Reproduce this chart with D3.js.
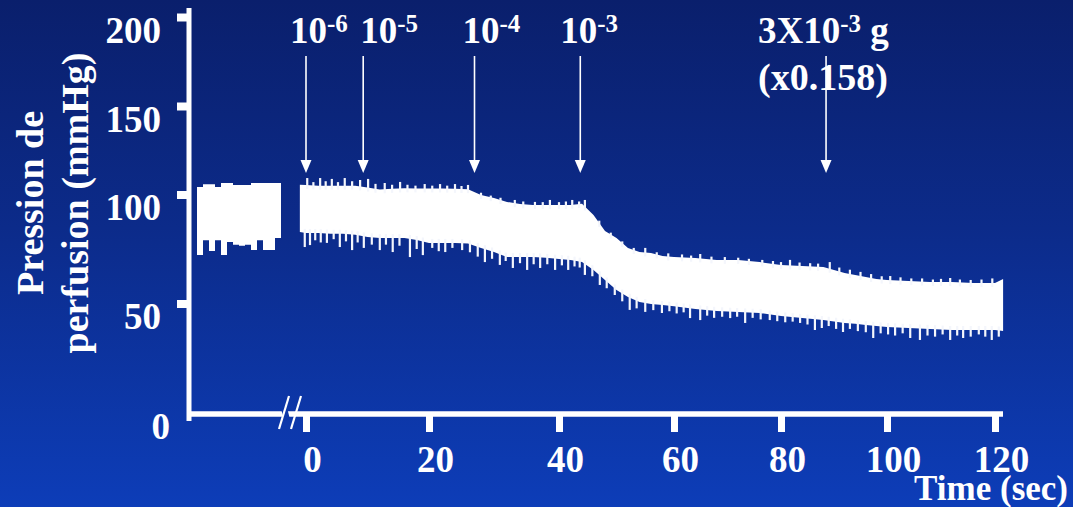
<!DOCTYPE html>
<html>
<head>
<meta charset="utf-8">
<script src="https://cdnjs.cloudflare.com/ajax/libs/d3/7.8.5/d3.min.js"></script>
<style>
  body { margin: 0; overflow: hidden; background: #0b2a8f; }
  text { font-family: "Liberation Serif", "Times New Roman", serif; font-weight: bold; fill: #fff; }
</style>
</head>
<body>
<div id="chart"></div>
<script>
var width = 1073, height = 507;

// axis ticks
var xTicks = [0, 20, 40, 60, 80, 100, 120];
var yTicks = [0, 50, 100, 150, 200];

// main recording after the break: time (sec) and pressure envelope (mmHg)
var times = [-1, 0, 2, 4, 6, 8, 10, 12, 14, 16, 18, 20, 22, 24, 26, 28, 30, 32, 34, 36, 38, 40,
  42, 44, 46, 48, 50, 52, 54, 56, 58, 60, 64, 68, 72, 76, 80, 84, 88, 90, 92, 94, 96, 98, 100,
  104, 108, 112, 116, 120, 121.5];
var upper = [105.5, 105.4, 105, 105, 105, 105, 104, 102.8, 103.2, 103.5, 103.4, 103.4, 103.4,
  103.2, 103, 99.8, 98.4, 96.6, 95.6, 95.2, 95.2, 95.2, 95.2, 95.8, 90.6, 83.3, 80, 75.5, 73.6,
  73.2, 71.8, 71.3, 70.9, 70, 70, 69, 67.7, 67.2, 66.7, 65.4, 64, 63.1, 62.2, 61.2, 60.8, 60.3,
  59.9, 59.9, 59.4, 59.4, 61.2];
var lower = [82.8, 82.3, 82.3, 82, 82, 81.5, 80.5, 80, 80, 80, 79.1, 77.8, 77.8, 77.8, 77.5, 75.5,
  73.6, 71.3, 71.3, 71.3, 71, 70.4, 70, 69, 65.4, 60.8, 56.2, 53, 50.7, 49.8, 49.3, 48.8, 47.5,
  46.6, 46.1, 45.7, 44.3, 43.4, 42.5, 41.9, 41.2, 40.8, 40.3, 39.8, 39.4, 38.9, 38.5, 38, 38, 38, 37.6];

// single beats reaching below the envelope
var dipTimes = [-0.2, 0.65, 1.5, 2.4, 3.4, 4.5, 5.5, 6.5, 7.5, 8.4, 9.4, 10.7, 12, 13, 14.1, 15.2,
  16.9, 18, 19, 20.5, 21.5, 22.5, 23.6, 25.1, 26.3, 27.5, 28.6, 29.7, 30.9, 31.8, 32.9, 34, 35.1,
  36.1, 37.1, 38.2, 39.4, 40.5, 41.6, 42.7, 43.6, 44.5, 45.8, 47.1, 48.3, 49.7, 51, 52.3, 53.5,
  55, 56.4, 57.9, 59.2, 60.5, 61.8, 63, 64.9, 66.2, 67.5, 69, 70.5, 71.8, 73.3, 74.7, 76.2, 77.9,
  79.3, 80.8, 82.2, 83.6, 85, 86.4, 87.7, 89, 90.4, 91.7, 93, 94.5, 96, 97.4, 98.8, 100.2, 101.5,
  102.9, 104.3, 106.1, 107.5, 108.9, 110.3, 111.7, 113, 114.1, 115.5, 117, 118.2, 119.4, 120.7];
var dipValues = [75.9, 76.8, 79, 78, 77.8, 79.5, 75.9, 78.5, 74.5, 78, 75.5, 77, 74.5, 77, 73.6,
  76.5, 71.3, 75, 72.2, 75.5, 74, 73.6, 75.5, 74.5, 73.5, 71.5, 69, 70.5, 67.7, 69.5, 66.3, 68.5,
  65.4, 68, 66.3, 68, 65.4, 67.5, 65.4, 67, 66.5, 63.1, 62.5, 58.5, 57, 53.9, 51, 47.1, 47.8,
  46.2, 47, 45.7, 46.5, 45.5, 46, 43.4, 42.5, 44.5, 43.5, 44, 43.4, 44, 41.2, 43.5, 42.8, 42.5,
  42, 41.5, 41.8, 41.2, 40.5, 38, 38.9, 39.8, 38.5, 37.1, 38.5, 37.5, 37, 34.4, 36.5, 36, 35.5,
  36.5, 34.4, 33.5, 35.5, 35, 36, 33.5, 35.5, 34.4, 35, 36, 35, 33.5, 35];

// single beats reaching above the envelope
var peakTimes = [0.2, 1.2, 2.3, 3.2, 4.2, 5.2, 6.3, 7.5, 8.8, 10.1, 11.3, 12.8, 14, 15.3, 16.5,
  17.8, 19.3, 20.5, 21.7, 22.8, 24, 25, 26, 28, 29.5, 31, 33.2, 34.5, 36.3, 37.5, 38.6, 40, 41.2,
  42.3, 43.5, 44.5, 47, 49, 51, 53, 55, 57, 59, 61.5, 63.2, 64.9, 67, 69.5, 72, 74, 76.5, 78.5,
  80, 81.7, 83.5, 85.5, 87, 89.2, 91, 93, 95, 97, 99, 100.6, 102.5, 104.5, 106.5, 108.5, 110,
  111.7, 113.5, 115.5, 117.5, 119.5];
var peakValues = [109.3, 107, 109.3, 107.5, 108.8, 107, 109.3, 107.5, 108.2, 108.8, 106, 106.5,
  105.5, 107.1, 105.5, 105, 105.9, 105, 105.9, 105, 105.9, 104.8, 105.4, 101, 99.5, 98.5, 97.5,
  96.8, 96.6, 96.5, 97.5, 96.5, 96.8, 97.5, 96.8, 97.5, 88, 82.5, 78.5, 75.5, 75.5, 73.5, 73,
  72.5, 72, 72.7, 71.5, 71.3, 71, 70.5, 70, 69.5, 69, 70, 68.8, 68.5, 68.3, 69, 66.5, 65.5, 64.5,
  63.5, 62.5, 62.6, 62, 61.5, 61.5, 61, 61.3, 61.7, 61, 60.8, 61, 61.5];

// control recording before the break (sec of control period, mmHg)
var ctrlTimes = [0, 1, 2, 3, 4, 5, 6, 7, 8, 9, 10, 11, 12, 13, 14];
var ctrlHigh = [104.2, 105.8, 105.8, 104.2, 106.5, 106.5, 105.4, 105.4, 105.4, 106.5, 106.5, 106.5, 106.5, 106.5, 106.5];
var ctrlLow = [72.2, 79, 74.1, 79, 72.2, 78.2, 77, 76.5, 77, 74.5, 79, 74.5, 74.5, 80, 80];

// doses injected
var doseTimes = [0, 9.3, 27, 43.7, 88.5];
var doseBase = ['10', '10', '10', '10', '3X10'];
var doseExp = ['-6', '-5', '-4', '-3', '-3'];
var doseUnit = ['', '', '', '', ' g'];

var svg = d3.select('#chart').append('svg')
    .attr('width', width)
    .attr('height', height);

var grad = svg.append('defs').append('linearGradient')
    .attr('id', 'bg')
    .attr('x1', 0).attr('y1', 0).attr('x2', 0).attr('y2', 1);
grad.append('stop').attr('offset', '0%').attr('stop-color', '#0a1f6c');
grad.append('stop').attr('offset', '45%').attr('stop-color', '#0c2b8a');
grad.append('stop').attr('offset', '100%').attr('stop-color', '#0d3db8');

svg.append('rect')
    .attr('width', width)
    .attr('height', height)
    .style('fill', 'url(#bg)');

// the hand drawn axes are not evenly spaced, so the scales follow the ticks
var xScale = d3.scaleLinear().domain(xTicks).range([306, 429, 559, 674, 781, 887, 995]),
    yScale = d3.scaleLinear().domain(yTicks).range([414, 303.5, 194.5, 106, 17]),
    ctrlScale = d3.scaleLinear().domain([0, 14]).range([197, 281]);

// Control trace
var ctrlData = ctrlTimes.map(function(t, i) { return {t: t, hi: ctrlHigh[i], lo: ctrlLow[i]}; });
svg.append('path')
    .datum(ctrlData)
    .attr('d', d3.area()
      .curve(d3.curveStepAfter)
      .x(function(d) { return ctrlScale(d.t); })
      .y0(function(d) { return yScale(d.lo); })
      .y1(function(d) { return yScale(d.hi); }))
    .style('fill', '#fff');

// Main trace
var traceData = times.map(function(t, i) { return {t: t, hi: upper[i], lo: lower[i]}; });
svg.append('path')
    .datum(traceData)
    .attr('d', d3.area()
      .x(function(d) { return xScale(d.t); })
      .y0(function(d) { return yScale(d.lo); })
      .y1(function(d) { return yScale(d.hi); }))
    .style('fill', '#fff');

var envLo = d3.scaleLinear().domain(times).range(lower),
    envHi = d3.scaleLinear().domain(times).range(upper);

svg.selectAll('.dip')
    .data(dipTimes)
  .enter().append('line')
    .attr('class', 'dip')
    .attr('x1', function(d) { return xScale(d); })
    .attr('x2', function(d) { return xScale(d); })
    .attr('y1', function(d) { return yScale(envLo(d)) - 4; })
    .attr('y2', function(d, i) { return yScale(dipValues[i]); })
    .style('stroke', '#f4f6fc')
    .style('stroke-width', 2.2);

svg.selectAll('.peak')
    .data(peakTimes)
  .enter().append('line')
    .attr('class', 'peak')
    .attr('x1', function(d) { return xScale(d); })
    .attr('x2', function(d) { return xScale(d); })
    .attr('y1', function(d) { return yScale(envHi(d)) + 4; })
    .attr('y2', function(d, i) { return yScale(peakValues[i]); })
    .style('stroke', '#f4f6fc')
    .style('stroke-width', 2.2);

// Axes
var xAxis = svg.append('g')
    .attr('transform', 'translate(0,414)')
    .call(d3.axisBottom(xScale).tickValues(xTicks).tickSize(18).tickFormat(d3.format('d')));
xAxis.select('.domain').remove();
xAxis.selectAll('.tick line').style('stroke', '#fff').style('stroke-width', 7);
xAxis.selectAll('.tick text')
    .attr('y', 32)
    .attr('dx', 6)
    .style('font-size', '37px')
    .style('fill', '#fff');

var yAxis = svg.append('g')
    .attr('transform', 'translate(189,0)')
    .call(d3.axisLeft(yScale).tickValues(yTicks).tickSize(12));
yAxis.select('.domain').remove();
yAxis.selectAll('.tick line')
    .style('stroke', '#fff')
    .style('stroke-width', 8)
    .style('display', function(d) { return d === 0 ? 'none' : null; });
yAxis.selectAll('.tick text')
    .attr('x', function(d) { return d === 0 ? -19 : -28; })
    .attr('dy', function(d) { return d === 0 ? 24 : 25; })
    .style('font-size', '37px')
    .style('fill', '#fff');

svg.append('line')
    .attr('x1', 189).attr('x2', 189)
    .attr('y1', 8).attr('y2', 421)
    .style('stroke', '#fff').style('stroke-width', 5);

svg.append('line')
    .attr('x1', 187).attr('x2', 1003)
    .attr('y1', 414).attr('y2', 414)
    .style('stroke', '#fff').style('stroke-width', 5.5);

// axis break
svg.append('line')
    .attr('x1', 284).attr('y1', 408).attr('x2', 287).attr('y2', 420)
    .style('stroke', '#0c36a8').style('stroke-width', 6);
[279, 291].forEach(function(bx) {
  svg.append('line')
      .attr('x1', bx).attr('y1', 429)
      .attr('x2', bx + 10).attr('y2', 396)
      .style('stroke', '#fff').style('stroke-width', 2.2);
});

svg.append('text')
    .attr('x', 1068)
    .attr('y', 500)
    .style('text-anchor', 'end')
    .style('font-size', '35px')
    .text('Time (sec)');

var yTitle = svg.append('text')
    .attr('transform', 'translate(43,203) rotate(-90)')
    .style('text-anchor', 'middle')
    .style('font-size', '38px');
yTitle.append('tspan').attr('x', 0).attr('y', 0).text('Pression de');
yTitle.append('tspan').attr('x', 0).attr('y', 45).text('perfusion (mmHg)');

// Dose arrows and labels
var labelNudge = [-16, -3, -12, -20, -68];

doseTimes.forEach(function(t, i) {
  var ax = xScale(t);
  svg.append('line')
      .attr('x1', ax).attr('x2', ax)
      .attr('y1', 56).attr('y2', 162)
      .style('stroke', '#fff').style('stroke-width', 1.6);
  svg.append('path')
      .attr('d', 'M' + (ax - 5.5) + ',160L' + (ax + 5.5) + ',160L' + ax + ',173Z')
      .style('fill', '#fff');

  var label = svg.append('text')
      .attr('x', ax + labelNudge[i])
      .attr('y', 43)
      .style('font-size', '37px');
  label.append('tspan').text(doseBase[i]);
  label.append('tspan').attr('dy', -11).style('font-size', '25px').text(doseExp[i]);
  if (doseUnit[i]) {
    label.append('tspan').attr('dy', 11).text(doseUnit[i]);
  }
});

svg.append('text')
    .attr('x', xScale(doseTimes[4]) + labelNudge[4])
    .attr('y', 90)
    .style('font-size', '38px')
    .text('(x0.158)');
</script>
</body>
</html>
